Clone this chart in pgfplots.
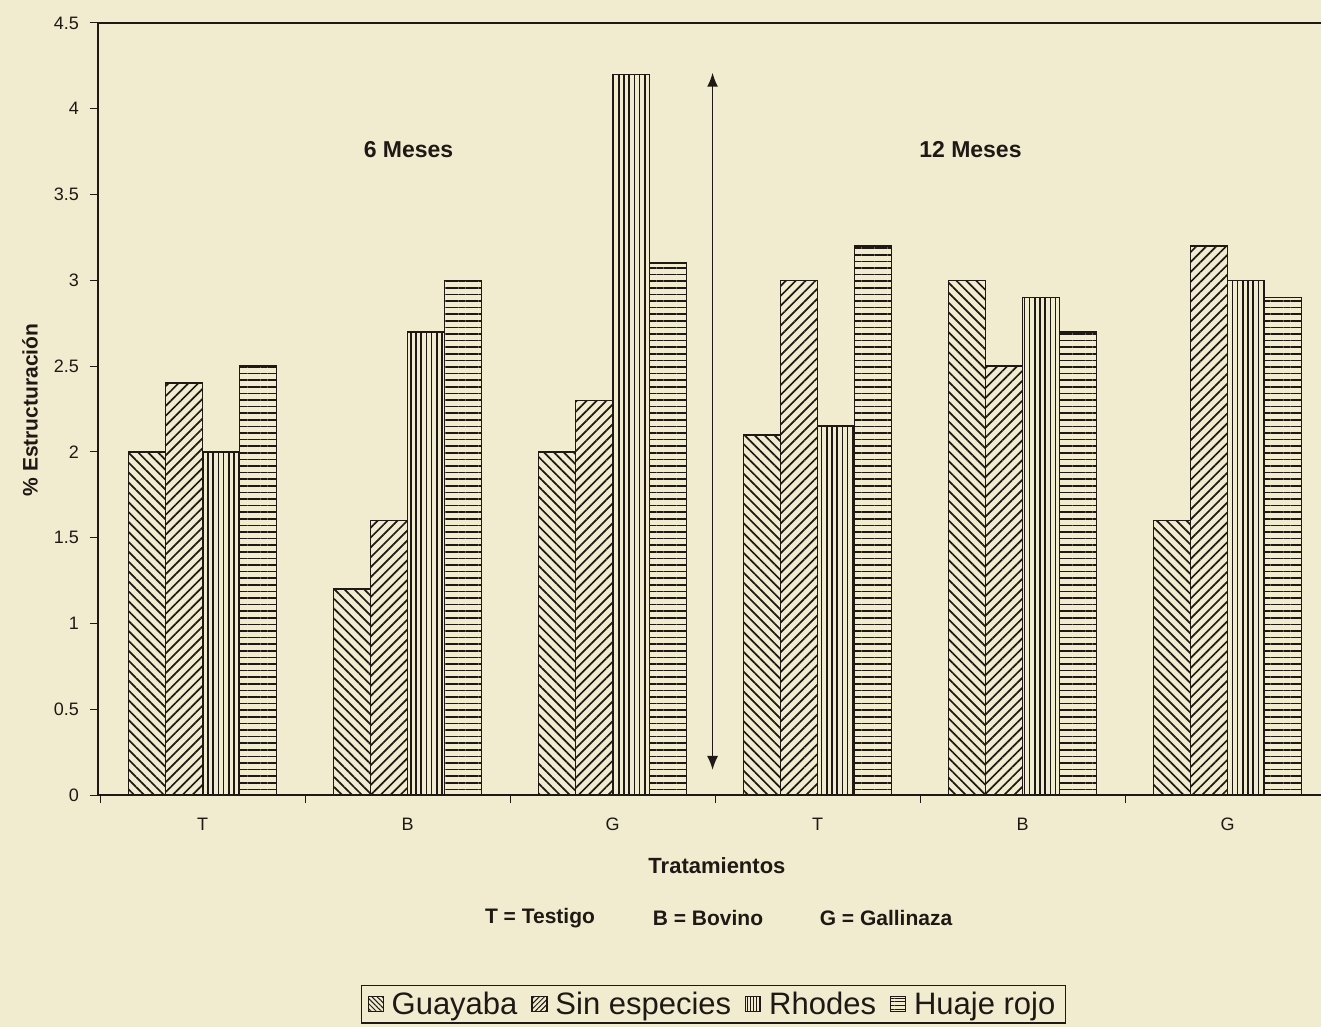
\documentclass[border=0pt]{standalone}
\usepackage{fontspec}
\setmainfont{Liberation Sans}
\usepackage{pgfplots}
\pgfplotsset{compat=1.18}
\usetikzlibrary{patterns.meta,arrows.meta}
\definecolor{bgc}{RGB}{241,236,208}
\definecolor{ink}{RGB}{30,25,20}
\tikzset{
  guay/.style={pattern={Lines[angle=-45,distance=3.5pt,line width=0.85pt]}, pattern color=ink},
  sinp/.style={pattern={Lines[angle=45,distance=3.5pt,line width=0.85pt]}, pattern color=ink},
  rhod/.style={pattern={Lines[angle=90,distance=2.6pt,line width=0.75pt]}, pattern color=ink},
  huaj/.style={pattern={Lines[angle=0,distance=3.3pt,line width=0.8pt]}, pattern color=ink},
}
\begin{document}
\begin{tikzpicture}
\fill[bgc] (-49pt,-116pt) rectangle (611.5pt,397.5pt);
\begin{axis}[
  at={(0,0)}, anchor=south west,
  scale only axis, width=616pt, height=386pt,
  xmin=-0.51, xmax=5.5, ymin=0, ymax=4.5,
  ybar, bar width=18.5pt,
  xtick={-0.5,0.5,...,5.5}, x tick label as interval,
  xticklabels={T,B,G,T,B,G},
  ytick={0,0.5,...,4.5},
  tick align=outside, xtick pos=bottom, ytick pos=left,
  major tick length=4pt,
  tick style={ink, line width=0.5pt},
  axis line style={ink, line width=0.9pt},
  ticklabel style={font=\fontsize{9}{10}\selectfont, text=ink},
  xticklabel style={yshift=-4pt},
  yticklabel style={xshift=-2pt},
  /pgf/number format/assume math mode=true,
  xlabel={Tratamientos},
  xlabel style={at={(axis description cs:0.5024,-0.092)}, anchor=center, font=\bfseries\fontsize{11}{13}\selectfont, text=ink},
  ylabel={\% Estructuración},
  ylabel style={at={(axis description cs:-0.0552,0.4987)}, anchor=center, font=\bfseries\fontsize{10.5}{12}\selectfont, text=ink},
  legend style={at={(axis description cs:0.4996,-0.2461)}, anchor=north, draw=ink, line width=0.6pt, fill=bgc,
    font=\fontsize{15.5}{18}\selectfont, text=ink, legend columns=4, inner xsep=3pt, inner ysep=1pt,
    /tikz/every odd column/.append style={column sep=2pt},
    /tikz/every even column/.append style={column sep=5pt}},
  legend cell align=left,
  legend image code/.code={\draw[#1] (0pt,-3.75pt) rectangle (7.5pt,3.75pt);},
]
\addplot[forget plot, bar shift=-27.75pt, draw=ink, line width=0.8pt, guay] coordinates {(0,2.0) (1,1.2) (2,2.0) (3,2.1) (4,3.0) (5,1.6)};
\addplot[forget plot, bar shift=-9.25pt, draw=ink, line width=0.8pt, sinp] coordinates {(0,2.4) (1,1.6) (2,2.3) (3,3.0) (4,2.5) (5,3.2)};
\addplot[forget plot, bar shift=9.25pt, draw=ink, line width=0.8pt, rhod] coordinates {(0,2.0) (1,2.7) (2,4.2) (3,2.15) (4,2.9) (5,3.0)};
\addplot[forget plot, bar shift=27.75pt, draw=ink, line width=0.8pt, huaj] coordinates {(0,2.5) (1,3.0) (2,3.1) (3,3.2) (4,2.7) (5,2.9)};
\addlegendimage{draw=ink, line width=0.6pt, pattern={Lines[angle=-45,distance=1.8pt,line width=0.5pt]}, pattern color=ink}
\addlegendentry{Guayaba}
\addlegendimage{draw=ink, line width=0.6pt, pattern={Lines[angle=45,distance=1.8pt,line width=0.5pt]}, pattern color=ink}
\addlegendentry{Sin especies}
\addlegendimage{draw=ink, line width=0.6pt, pattern={Lines[angle=90,distance=1.5pt,line width=0.5pt]}, pattern color=ink}
\addlegendentry{Rhodes}
\addlegendimage{draw=ink, line width=0.6pt, pattern={Lines[angle=0,distance=1.8pt,line width=0.5pt]}, pattern color=ink}
\addlegendentry{Huaje rojo}
\draw[ink, line width=0.8pt, {Latex[length=7pt,width=5.5pt]}-{Latex[length=7pt,width=5.5pt]}] (axis cs:2.488,0.146) -- (axis cs:2.488,4.21);
\node[font=\bfseries\fontsize{11.5}{13}\selectfont, text=ink] at (axis cs:1.005,3.765) {6 Meses};
\node[font=\bfseries\fontsize{11.5}{13}\selectfont, text=ink] at (axis cs:3.746,3.765) {12 Meses};
\end{axis}
\node[font=\bfseries\fontsize{10.5}{12}\selectfont, text=ink] at (221pt,-61.5pt) {T = Testigo};
\node[font=\bfseries\fontsize{10.5}{12}\selectfont, text=ink] at (305pt,-61.5pt) {B = Bovino};
\node[font=\bfseries\fontsize{10.5}{12}\selectfont, text=ink] at (394pt,-61.5pt) {G = Gallinaza};
\pgfresetboundingbox
\path (-49pt,-116pt) rectangle (611.5pt,397.5pt);
\end{tikzpicture}
\end{document}
